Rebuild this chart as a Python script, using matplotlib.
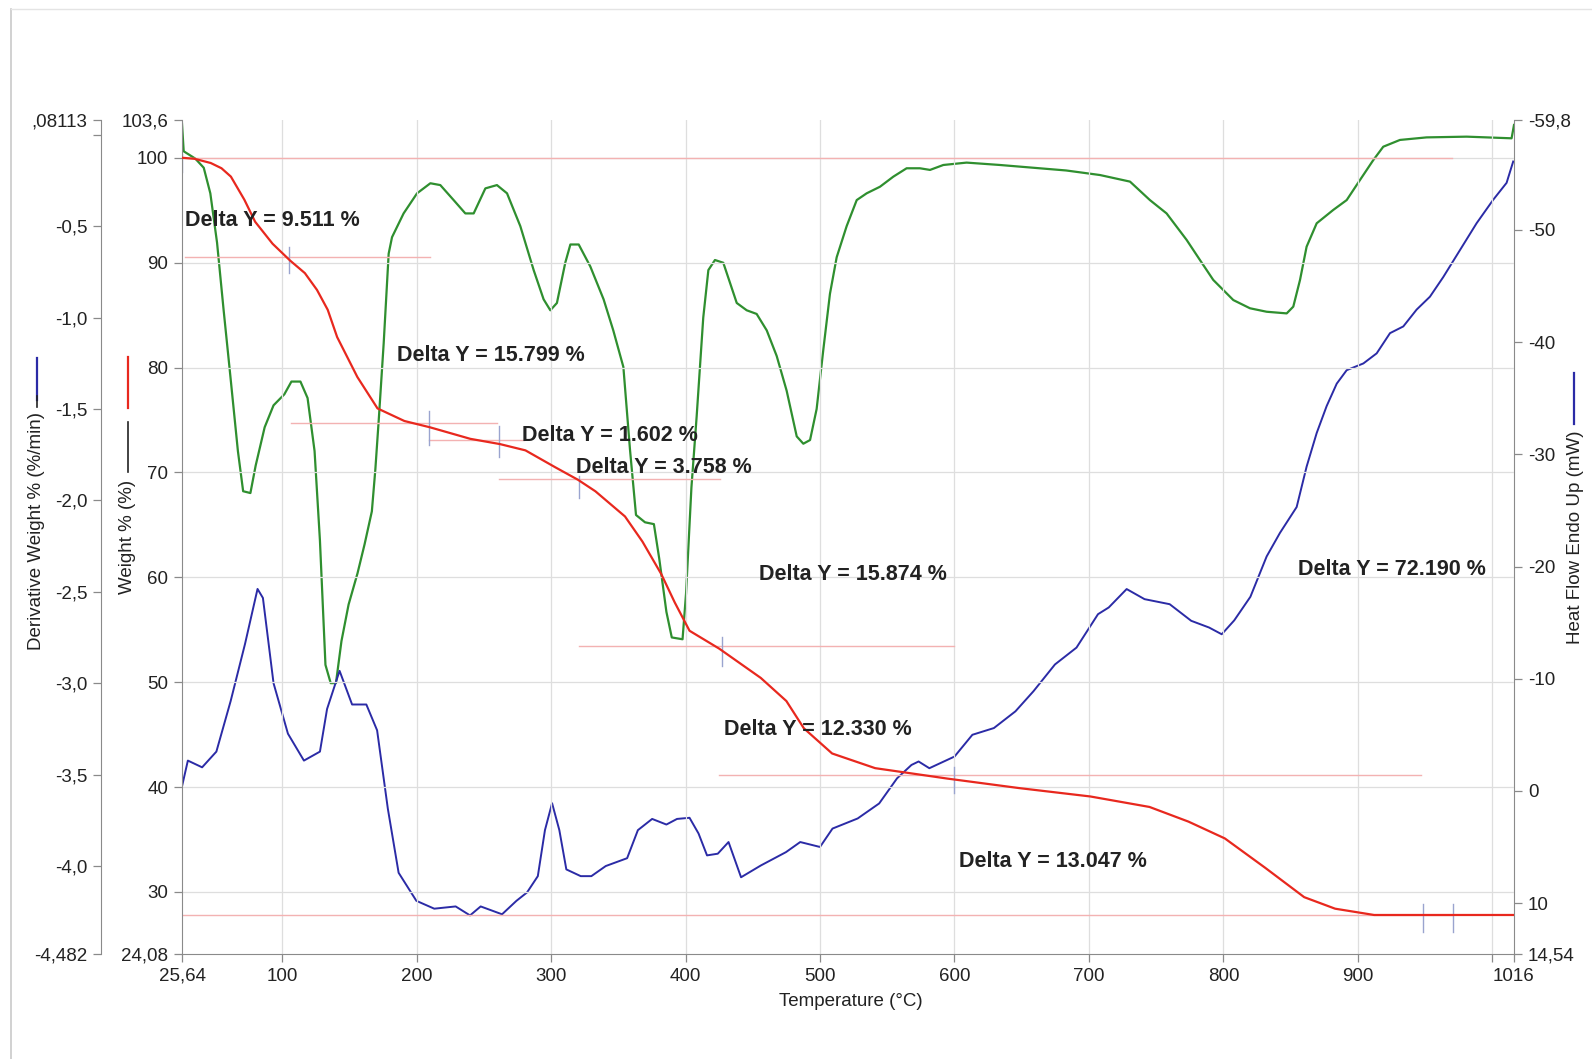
import matplotlib
matplotlib.use("Agg")
import matplotlib.pyplot as plt
from matplotlib.lines import Line2D

plt.rcParams['font.family'] = ['Liberation Sans', 'DejaVu Sans']

# ---------------- data ----------------
red_T = [25.64, 35, 47, 55, 62, 72, 80, 93, 106, 117, 126, 134, 141, 156, 171, 191, 210, 240,
         262, 281, 303, 320, 333, 355, 368, 382, 392, 403, 425, 456, 475, 488, 509, 541,
         595, 648, 701, 745, 774, 801, 831, 860, 883, 912, 960, 1016]
red_W = [100.0, 99.9, 99.5, 99.0, 98.2, 96.0, 93.9, 91.8, 90.2, 89.0, 87.4, 85.5, 82.9, 79.1, 76.1,
         74.9, 74.3, 73.2, 72.7, 72.1, 70.5, 69.3, 68.2, 65.8, 63.4, 60.3, 57.6, 54.9, 53.2,
         50.4, 48.2, 45.6, 43.2, 41.8, 40.8, 39.9, 39.1, 38.1, 36.7, 35.1, 32.3, 29.5, 28.4,
         27.8, 27.8, 27.8]

green_T = [25.64, 26.9, 35.5, 41.8, 46.7, 51.7, 56.6, 61.6, 67.2, 71.1, 76.5, 80.4, 87.1, 93.7,
           101.7, 107, 113.7, 119, 124.2, 128.2, 132.3, 136.2, 140.1, 144.2, 149.5, 156.1,
           161.4, 166.8, 169.4, 172.1, 175.6, 179.3, 181.8, 190.4, 200.4, 210.3, 217.7, 227.6,
           236.3, 242.5, 251.2, 259.8, 267.3, 277.2, 287.1, 294.5, 299.5, 304.4, 310.6, 314.4,
           320.6, 329.2, 339.1, 346.3, 353.8, 358.7, 363.2, 369.9, 376.5, 380.5, 385.8, 389.8,
           397.8, 400.4, 404.4, 408.3, 413.2, 417, 421.9, 428.1, 433.1, 438.1, 445.5, 452.9,
           460.4, 467.8, 475.2, 482.7, 487.6, 492.6, 497.5, 502.4, 507.4, 512.4, 519.8, 527.3,
           534.7, 544.6, 554.5, 564.4, 574.3, 581.8, 591.7, 609, 633.8, 683, 708.2, 730.5,
           745.3, 757.7, 772.6, 782.5, 792.4, 807.3, 819.7, 832.1, 847, 851.9, 856.9, 861.8,
           869.3, 881.6, 891.6, 901.5, 911.4, 918.8, 931.2, 951, 980.8, 1014.2, 1016]
green_D = [0.06, -0.09, -0.13, -0.18, -0.32, -0.59, -0.96, -1.32, -1.73, -1.95, -1.96, -1.81,
           -1.60, -1.48, -1.42, -1.35, -1.35, -1.44, -1.73, -2.22, -2.90, -3.00, -3.00, -2.77,
           -2.57, -2.40, -2.24, -2.06, -1.83, -1.54, -1.14, -0.65, -0.56, -0.43, -0.32, -0.265,
           -0.275, -0.357, -0.43, -0.43, -0.293, -0.275, -0.32, -0.50, -0.74, -0.90, -0.96,
           -0.92, -0.70, -0.60, -0.60, -0.72, -0.90, -1.07, -1.27, -1.72, -2.08, -2.12, -2.13,
           -2.32, -2.61, -2.75, -2.76, -2.51, -1.93, -1.54, -1.00, -0.74, -0.685, -0.70, -0.81,
           -0.92, -0.96, -0.98, -1.07, -1.21, -1.40, -1.65, -1.69, -1.67, -1.50, -1.18, -0.87,
           -0.67, -0.50, -0.357, -0.32, -0.284, -0.229, -0.183, -0.183, -0.192, -0.165, -0.152,
           -0.165, -0.195, -0.22, -0.256, -0.357, -0.43, -0.575, -0.685, -0.794, -0.904,
           -0.949, -0.968, -0.977, -0.94, -0.794, -0.612, -0.484, -0.411, -0.357, -0.247,
           -0.138, -0.065, -0.028, -0.014, -0.010, -0.019, 0.054]

blue_T = [25.64, 30, 40.6, 51.2, 61.8, 72.5, 81.8, 85.8, 93.7, 104.4, 116.3, 128.2, 133.5, 142.8,
          152.1, 162.7, 170.7, 178.7, 186.7, 199.9, 213.2, 229.1, 239.8, 247.7, 263.6, 274.3,
          282.2, 290.2, 295.5, 300.8, 306.2, 311.4, 322.1, 330, 340.7, 356.6, 364.6, 375.2,
          385.8, 393.7, 403, 409.7, 416, 424, 432, 441.3, 456, 474.7, 485.3, 500, 509.3, 528,
          544, 557.3, 568, 573.3, 581.3, 600, 613.3, 629.3, 645.3, 658.7, 674.7, 690.7, 706.7,
          714.7, 728, 741.3, 760, 776, 789.3, 798.7, 808, 820, 832.1, 842, 854.4, 861.8, 869.3,
          876.7, 884.2, 891.6, 904, 913.9, 923.8, 933.7, 943.6, 953.5, 963.4, 975.8, 988.2,
          1000.6, 1010.5, 1015.4]
blue_H = [-0.4, -2.7, -2.1, -3.5, -8.0, -13.1, -18.0, -17.2, -9.6, -5.1, -2.7, -3.5, -7.3, -10.7,
          -7.7, -7.7, -5.4, 1.6, 7.3, 9.8, 10.5, 10.3, 11.1, 10.3, 11.0, 9.8, 9.05, 7.6, 3.5,
          1.1, 3.5, 7.0, 7.6, 7.6, 6.7, 6.0, 3.5, 2.5, 3.0, 2.5, 2.4, 3.8, 5.75, 5.6, 4.56,
          7.7, 6.65, 5.46, 4.56, 5.0, 3.36, 2.46, 1.12, -1.12, -2.31, -2.62, -2.02, -3.06,
          -5.0, -5.6, -7.09, -8.88, -11.27, -12.77, -15.75, -16.35, -17.99, -17.09, -16.64,
          -15.16, -14.56, -13.96, -15.2, -17.3, -20.9, -23.0, -25.3, -28.9, -31.9, -34.3,
          -36.3, -37.5, -38.1, -39.0, -40.8, -41.4, -42.9, -44.05, -45.8, -48.2, -50.6, -52.7,
          -54.2, -56.1]

# weight-step analysis lines
step_level = [100.0, 90.49, 74.69, 73.09, 69.33, 53.46, 41.13, 27.81]
step_start = [25.64, 27.9, 107, 209, 261, 320.6, 425, 25.64]
step_end = [970, 210, 260, 280, 425.6, 600, 947, 970]
mark_T = [25.64, 105.2, 209.5, 261, 320.7, 427, 600, 948, 971]
mark_lo = [98.6, 89.0, 72.6, 71.5, 67.6, 51.5, 39.4, 26.2, 26.2]
mark_hi = [100.4, 91.5, 75.9, 74.4, 69.7, 54.3, 41.9, 28.8, 28.8]

delta_text = ["Delta Y = 9.511 %", "Delta Y = 15.799 %", "Delta Y = 1.602 %",
              "Delta Y = 3.758 %", "Delta Y = 15.874 %", "Delta Y = 12.330 %",
              "Delta Y = 13.047 %", "Delta Y = 72.190 %"]
delta_T = [27.9, 185.5, 278.8, 318.9, 454.6, 428.4, 603.2, 855.5]
delta_W = [94.0, 81.1, 73.5, 70.5, 60.3, 45.5, 32.9, 60.7]

x_ticks = [25.64, 100, 200, 300, 400, 500, 600, 700, 800, 900, 1000, 1016]
x_labels = ["25,64", "100", "200", "300", "400", "500", "600", "700", "800", "900", "", "1016"]
w_ticks = [24.08, 30, 40, 50, 60, 70, 80, 90, 100, 103.6]
w_labels = ["24,08", "30", "40", "50", "60", "70", "80", "90", "100", "103,6"]
d_ticks = [-4.482, -4.0, -3.5, -3.0, -2.5, -2.0, -1.5, -1.0, -0.5, 0.0, 0.08113]
d_labels = ["-4,482", "-4,0", "-3,5", "-3,0", "-2,5", "-2,0", "-1,5", "-1,0", "-0,5", "", ",08113"]
h_ticks = [-59.8, -50, -40, -30, -20, -10, 0, 10, 14.54]
h_labels = ["-59,8", "-50", "-40", "-30", "-20", "-10", "0", "10", "14,54"]

# ---------------- figure ----------------
W, H = 1592, 1059
fig = plt.figure(figsize=(W / 100, H / 100), dpi=100)
fig.patch.set_facecolor('white')

L, R, T, B = 182, 1514, 120, 954
ax = fig.add_axes([L / W, 1 - B / H, (R - L) / W, (B - T) / H])
ax_d = ax.twinx()
ax_h = ax.twinx()

spine_c = '#8a8a8a'
lab_c = '#222222'
grid_c = '#dedede'

for a in (ax, ax_d, ax_h):
    a.set_xlim(25.64, 1016)
    for s in a.spines.values():
        s.set_visible(False)
    a.patch.set_visible(False)

ax.set_ylim(24.08, 103.6)
ax_d.set_ylim(-4.482, 0.08113)
ax_h.set_ylim(14.54, -59.8)

# grid
for xv in x_ticks[1:-1]:
    ax.axvline(xv, color=grid_c, lw=0.9, zorder=0)
for yv in w_ticks[1:-1]:
    ax.axhline(yv, color=grid_c, lw=0.9, zorder=0)

# spines
ax.spines['left'].set_visible(True)
ax.spines['bottom'].set_visible(True)
ax.spines['left'].set_color(spine_c)
ax.spines['bottom'].set_color(spine_c)
ax_d.spines['left'].set_visible(True)
ax_d.spines['left'].set_position(('axes', -0.0608))
ax_d.spines['left'].set_color(spine_c)
ax_d.yaxis.set_ticks_position('left')
ax_d.yaxis.set_label_position('left')
ax_h.spines['right'].set_visible(True)
ax_h.spines['right'].set_color(spine_c)

ax.set_xticks(x_ticks)
ax.set_xticklabels(x_labels)
ax.set_yticks(w_ticks)
ax.set_yticklabels(w_labels)
ax_d.set_yticks(d_ticks)
ax_d.set_yticklabels(d_labels)
ax_h.set_yticks(h_ticks)
ax_h.set_yticklabels(h_labels)

for a in (ax, ax_d, ax_h):
    a.tick_params(direction='out', length=6, width=0.9, color=spine_c,
                  labelsize=13.5, labelcolor=lab_c, pad=4)
ax_d.tick_params(axis='x', bottom=False, labelbottom=False)
ax_h.tick_params(axis='x', bottom=False, labelbottom=False)

# step lines
for lv, s0, s1 in zip(step_level, step_start, step_end):
    ax.plot([s0, s1], [lv, lv], color='#f3b2b2', lw=1.0, zorder=1)
for mt, lo, hi in zip(mark_T, mark_lo, mark_hi):
    ax.plot([mt, mt], [lo, hi], color='#9aa4cf', lw=1.0, zorder=1)

# curves
ax_d.plot(green_T, green_D, color='#2f8f2f', lw=1.6, zorder=3)
ax_h.plot(blue_T, blue_H, color='#2b2ba6', lw=1.4, zorder=3)
ax.plot(red_T, red_W, color='#e8281e', lw=1.6, zorder=4)

# Delta annotations (drawn on top)
for txt, tx, ty in zip(delta_text, delta_T, delta_W):
    ax_h.text(tx, 0, '', transform=ax_h.transData)
    ax.annotate(txt, xy=(tx, ty), xycoords='data', ha='left', va='center',
                fontsize=15.5, fontweight='bold', color=lab_c, zorder=10,
                annotation_clip=False)
ax.set_zorder(ax_h.get_zorder() + 1)

# axis labels
fig.text(851 / W, 1 - 1001 / H, "Temperature (\u00b0C)", ha='center', va='center',
         fontsize=13.5, color=lab_c)
fig.text(37 / W, 1 - 531 / H, "Derivative Weight % (%/min)", rotation=90,
         ha='center', va='center', fontsize=13.5, color=lab_c)
fig.text(128 / W, 1 - 537 / H, "Weight % (%)", rotation=90,
         ha='center', va='center', fontsize=13.5, color=lab_c)
fig.text(1576 / W, 1 - 537 / H, "Heat Flow Endo Up (mW)", rotation=90,
         ha='center', va='center', fontsize=13.5, color=lab_c)

def vline(x, y0, y1, c, lw=1.6):
    fig.add_artist(Line2D([x / W, x / W], [1 - y0 / H, 1 - y1 / H], color=c, lw=lw))

vline(37, 358, 400, '#2b2ba6')
vline(37, 396, 407, '#222222', 1.2)
vline(128, 357, 408, '#e8281e')
vline(128, 422, 472, '#222222', 1.2)
vline(1574, 373, 424, '#2b2ba6')

# page frame of the scan
fig.add_artist(Line2D([11 / W, 11 / W], [0, 1 - 9 / H], color='#c9c9c9', lw=1.2))
fig.add_artist(Line2D([11 / W, 1], [1 - 9 / H, 1 - 9 / H], color='#e4e4e4', lw=1.0))

fig.savefig("out.png", dpi=100, facecolor='white')
